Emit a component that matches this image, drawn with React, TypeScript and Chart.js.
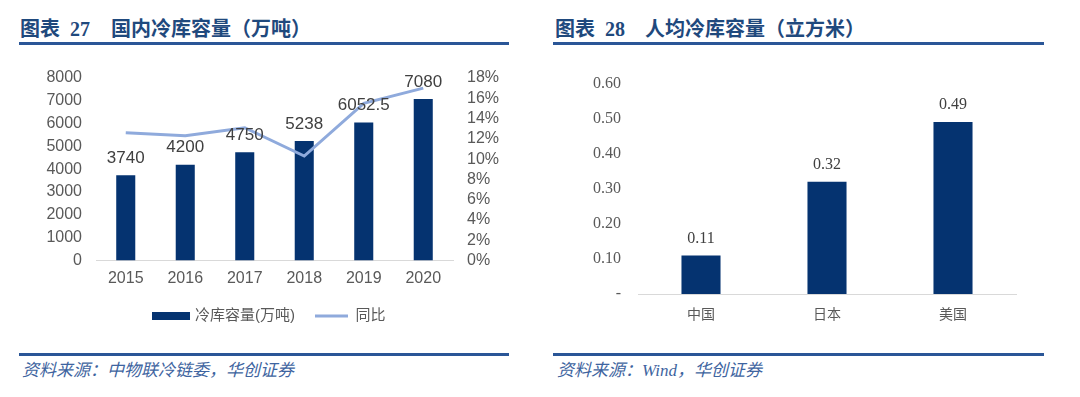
import React, { useEffect, useRef } from "react";
import { Chart, registerables } from "chart.js";

Chart.register(...registerables);

// ---------- data ----------
const years = ["2015", "2016", "2017", "2018", "2019", "2020"];
const capacity = [3740, 4200, 4750, 5238, 6052.5, 7080];
const yoyPct = [12.6, 12.3, 13.1, 10.3, 15.5, 17.0];
const capacityLabels = ["3740", "4200", "4750", "5238", "6052.5", "7080"];

const countries = ["中国", "日本", "美国"];
const perCapita = [0.11, 0.32, 0.49];

const leftTitleNo = "图表 27";
const leftTitle = "国内冷库容量（万吨）";
const rightTitleNo = "图表 28";
const rightTitle = "人均冷库容量（立方米）";
const leftSource = "资料来源：中物联冷链委，华创证券";
const rightSource = "资料来源：Wind，华创证券";
const barSeriesName = "冷库容量(万吨)";
const lineSeriesName = "同比";

// ---------- styles ----------
const BAR = "#053370";
const LINE = "#8FAADC";
const TICK = "#595959";
const LABEL = "#404040";
const AXIS = "#D9D9D9";
const TITLE = "#1F497D";
const RULE = "#2A5697";
const SOURCE = "#3E64A0";
const SANS = 'Arial, "Liberation Sans", "Noto Sans CJK SC"';
const SERIF = '"Times New Roman", "Liberation Serif", "Noto Sans CJK SC"';

function barLabelPlugin(texts: string[], font: string, color: string, offset: number) {
  return {
    id: "barLabels",
    afterDatasetsDraw(chart: any) {
      const ctx = chart.ctx;
      const meta = chart.getDatasetMeta(0);
      ctx.save();
      ctx.font = font;
      ctx.fillStyle = color;
      ctx.textAlign = "center";
      ctx.textBaseline = "middle";
      meta.data.forEach((el: any, i: number) => {
        ctx.fillText(texts[i], el.x, el.y - offset);
      });
      ctx.restore();
    },
  };
}

function fixVertical(width: number) {
  return (s: any) => {
    s.width = width;
    s.paddingTop = 0;
    s.paddingBottom = 0;
  };
}

function LeftChart() {
  const ref = useRef<HTMLCanvasElement>(null);
  useEffect(() => {
    const chart = new Chart(ref.current!, {
      type: "bar",
      data: {
        labels: years,
        datasets: [
          {
            type: "bar",
            label: barSeriesName,
            data: capacity,
            backgroundColor: BAR,
            borderWidth: 0,
            yAxisID: "y",
            order: 1,
            categoryPercentage: 1,
            barPercentage: 0.32,
          },
          {
            type: "line",
            label: lineSeriesName,
            data: yoyPct,
            borderColor: LINE,
            backgroundColor: LINE,
            borderWidth: 3,
            pointRadius: 0,
            tension: 0,
            yAxisID: "y1",
            order: 0,
          } as any,
        ],
      },
      options: {
        animation: false,
        responsive: false,
        maintainAspectRatio: false,
        layout: { padding: { top: 18, bottom: 6.5, left: 0, right: 0 } },
        plugins: {
          tooltip: { enabled: false },
          legend: {
            position: "bottom",
            labels: {
              boxWidth: 33,
              boxHeight: 3,
              padding: 20,
              color: TICK,
              font: { size: 15, family: SANS },
              generateLabels: (c: any) => [
                {
                  text: c.data.datasets[0].label,
                  fillStyle: BAR,
                  strokeStyle: BAR,
                  lineWidth: 5,
                  hidden: false,
                  datasetIndex: 0,
                  fontColor: TICK,
                },
                {
                  text: c.data.datasets[1].label,
                  fillStyle: LINE,
                  strokeStyle: LINE,
                  lineWidth: 0,
                  hidden: false,
                  datasetIndex: 1,
                  fontColor: TICK,
                },
              ],
            },
          },
        },
        scales: {
          x: {
            grid: { display: false, drawTicks: false },
            border: { display: true, color: AXIS, width: 1 },
            ticks: { color: TICK, font: { size: 16, family: SANS }, padding: 8 },
            afterFit: (s: any) => {
              s.height = 28;
            },
          },
          y: {
            position: "left",
            min: 0,
            max: 8000,
            grid: { display: false, drawTicks: false },
            border: { display: false },
            ticks: {
              stepSize: 1000,
              autoSkip: false,
              color: TICK,
              font: { size: 16, family: SANS },
              padding: 14,
              callback: (v: any) => String(v),
            },
            afterFit: fixVertical(96),
          },
          y1: {
            position: "right",
            min: 0,
            max: 18,
            grid: { display: false, drawTicks: false },
            border: { display: false },
            ticks: {
              stepSize: 2,
              autoSkip: false,
              color: TICK,
              font: { size: 16, family: SANS },
              padding: 14,
              callback: (v: any) => `${v}%`,
            },
            afterFit: fixVertical(87),
          },
        },
      },
      plugins: [barLabelPlugin(capacityLabels, `17px ${SANS}`, LABEL, 17)],
    } as any);
    return () => chart.destroy();
  }, []);
  return (
    <canvas
      ref={ref}
      width={540}
      height={280}
      style={{ position: "absolute", left: 0, top: 60, width: 540, height: 280 }}
    />
  );
}

function RightChart() {
  const ref = useRef<HTMLCanvasElement>(null);
  useEffect(() => {
    const chart = new Chart(ref.current!, {
      type: "bar",
      data: {
        labels: countries,
        datasets: [
          {
            label: rightTitle,
            data: perCapita,
            backgroundColor: BAR,
            borderWidth: 0,
            categoryPercentage: 1,
            barPercentage: 0.31,
          },
        ],
      },
      options: {
        animation: false,
        responsive: false,
        maintainAspectRatio: false,
        layout: { padding: { top: 23.5, bottom: 0, left: 0, right: 64 } },
        plugins: { legend: { display: false }, tooltip: { enabled: false } },
        scales: {
          x: {
            grid: { display: false, drawTicks: false },
            border: { display: true, color: AXIS, width: 1 },
            ticks: { color: TICK, font: { size: 14, family: '"Noto Sans CJK SC"' }, padding: 11 },
            afterFit: (s: any) => {
              s.height = 46;
            },
          },
          y: {
            min: 0,
            max: 0.6,
            grid: { display: false, drawTicks: false },
            border: { display: false },
            ticks: {
              stepSize: 0.1,
              autoSkip: false,
              color: TICK,
              font: { size: 16, family: SERIF },
              padding: 17,
              callback: (v: any) => (Math.abs(Number(v)) < 1e-9 ? "-" : Number(v).toFixed(2)),
            },
            afterFit: fixVertical(98),
          },
        },
      },
      plugins: [barLabelPlugin(perCapita.map((v) => v.toFixed(2)), `16px ${SERIF}`, LABEL, 17)],
    } as any);
    return () => chart.destroy();
  }, []);
  return (
    <canvas
      ref={ref}
      width={540}
      height={280}
      style={{ position: "absolute", left: 540, top: 60, width: 540, height: 280 }}
    />
  );
}

const titleStyle: React.CSSProperties = {
  position: "absolute",
  top: 18,
  height: 22,
  lineHeight: "22px",
  fontFamily: SERIF,
  fontWeight: "bold",
  fontSize: 20,
  color: TITLE,
  whiteSpace: "nowrap",
};

const sourceStyle: React.CSSProperties = {
  position: "absolute",
  top: 361,
  lineHeight: "20px",
  fontFamily: SERIF,
  fontStyle: "italic",
  fontSize: 17,
  color: SOURCE,
  whiteSpace: "nowrap",
};

function rule(left: number, top: number, width: number) {
  return (
    <div
      style={{
        position: "absolute",
        left,
        top,
        width,
        height: 3,
        background: RULE,
      }}
    />
  );
}

export default function App() {
  useEffect(() => {
    document.body.style.margin = "0";
  }, []);
  return (
    <div
      style={{
        position: "absolute",
        left: 0,
        top: 0,
        width: 1080,
        height: 397,
        background: "#ffffff",
        overflow: "hidden",
      }}
    >
      <div style={{ ...titleStyle, left: 20 }}>{leftTitleNo.split(" ")[0]}</div>
      <div style={{ ...titleStyle, left: 70 }}>{leftTitleNo.split(" ")[1]}</div>
      <div style={{ ...titleStyle, left: 111 }}>{leftTitle}</div>
      {rule(19, 42, 490)}

      <div style={{ ...titleStyle, left: 555 }}>{rightTitleNo.split(" ")[0]}</div>
      <div style={{ ...titleStyle, left: 605 }}>{rightTitleNo.split(" ")[1]}</div>
      <div style={{ ...titleStyle, left: 645 }}>{rightTitle}</div>
      {rule(553, 42, 491)}

      <LeftChart />
      <RightChart />

      {rule(19, 353, 490)}
      {rule(553, 353, 491)}
      <div style={{ ...sourceStyle, left: 22 }}>{leftSource}</div>
      <div style={{ ...sourceStyle, left: 557 }}>{rightSource}</div>
    </div>
  );
}
